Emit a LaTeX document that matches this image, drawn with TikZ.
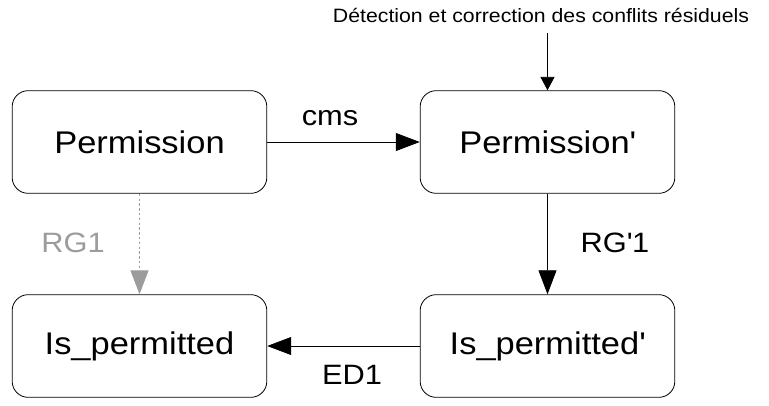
\documentclass[tikz,border=0pt]{standalone}
\usepackage{fontspec}
\setmainfont{Liberation Sans}[FakeStretch=1.1]
\usetikzlibrary{arrows.meta, positioning}

\definecolor{faint}{HTML}{9C9C9C}

\begin{document}
\begin{tikzpicture}[
    x=0.75pt, y=-0.75pt,
    state/.style={draw, line width=0.6pt, rounded corners=12pt, minimum width=191pt, minimum height=77pt, inner sep=0pt, font=\fontsize{23.5}{26}\selectfont},
    lbl/.style={anchor=base, font=\fontsize{21}{24}\selectfont},
    arr/.style={-{Triangle[length=18pt, width=13.5pt]}, line width=0.6pt},
    small/.style={-{Triangle[length=10pt, width=10.5pt]}, line width=0.6pt},
]
\useasboundingbox (0,0) rectangle (769,405);
% === States ===
\node[state] (perm) at (139.5, 142) {Permission};
\node[state] (permp) at (547.5, 142) {Permission\textquotesingle};
\node[state] (isperm) at (139.5, 346) {Is\_permitted};
\node[state] (ispermp) at (547.5, 346) {Is\_permitted\textquotesingle};
% === Top input ===
\node[anchor=base, font=\fontsize{14.5}{17}\selectfont] (detect) at (541, 22) {Détection et correction des conflits résiduels};
\coordinate (src) at (547.5, 33);
\draw[small] (src) -- (permp.north);
% === Transitions ===
\draw[arr] (perm.east) -- (permp.west);
\node[lbl] (cms) at (330, 125) {cms};
%
\draw[arr] (permp.south) -- (ispermp.north);
\node[lbl] (rgp) at (615, 252) {RG\textquotesingle1};
%
\draw[arr] (ispermp.west) -- (isperm.east);
\node[lbl] (ed) at (352, 384) {ED1};
%
\draw[arr, faint, line width=0.9pt, dash pattern=on 1.8pt off 1.8pt] (perm.south) -- (isperm.north);
\node[lbl, faint] (rg) at (73, 252) {RG1};
\end{tikzpicture}
\end{document}
